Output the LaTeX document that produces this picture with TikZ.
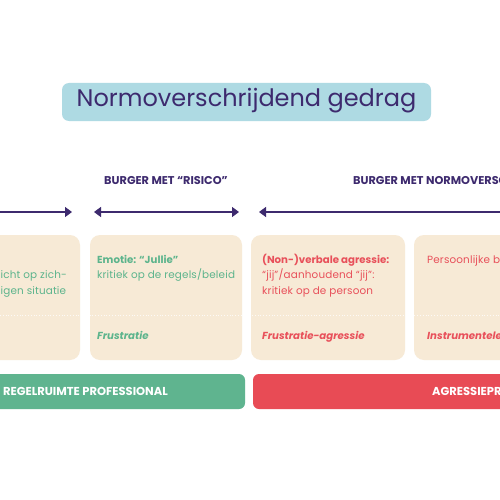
\documentclass[tikz,border=0pt]{standalone}
\usepackage{fontspec}
\setmainfont{Poppins}
\usetikzlibrary{arrows.meta}
\definecolor{titlebg}{HTML}{AEDAE3}
\definecolor{purp}{HTML}{3D2A6E}
\definecolor{boxbg}{HTML}{F7EAD6}
\definecolor{grn}{HTML}{5CB48C}
\definecolor{grnbar}{HTML}{5FB48F}
\definecolor{rd}{HTML}{E8505A}
\definecolor{rdbar}{HTML}{E84B55}
\newcommand{\regfont}{\fontsize{10.4}{12}\selectfont\addfontfeatures{LetterSpace=1.5}}
\newcommand{\boldfont}{\fontsize{10.2}{12}\selectfont\bfseries}
\tikzset{
  cardbox/.style={fill=boxbg, rounded corners=10pt},
  barbox/.style={rounded corners=6pt},
  hdr/.style={font=\fontsize{11.3}{13}\selectfont\bfseries, text=purp, inner sep=0pt},
  txt/.style={font=\regfont, anchor=base west, inner sep=0pt},
  arr/.style={purp, line width=1.3pt, -{Triangle[length=7pt,width=10pt]}},
  darr/.style={purp, line width=1.3pt, {Triangle[length=7pt,width=10pt]}-{Triangle[length=7pt,width=10pt]}},
}
\begin{document}
\begin{tikzpicture}[x=1pt,y=-1pt]
\useasboundingbox (0,0) rectangle (500,500);
\clip (0,0) rectangle (500,500);
\fill[white] (0,0) rectangle (500,500);
% title
\fill[titlebg, rounded corners=7pt] (62,83) rectangle (431,121);
\node[text=purp, font=\fontsize{24}{28}\selectfont, inner sep=0pt] (title) at (246.5,101) {Normoverschrijdend gedrag};
% headers
\node[hdr] (h1) at (166,181) {BURGER MET “RISICO”};
\node[hdr, anchor=west] (h2) at (353,181) {BURGER MET NORMOVERSCHRIJDEND GEDRAG};
% arrows
\coordinate (a0s) at (-20,212);
\coordinate (a0e) at (72,212);
\coordinate (a1s) at (94,212);
\coordinate (a1e) at (239,212);
\coordinate (a2s) at (259,212);
\coordinate (a2e) at (520,212);
\draw[arr] (a0s) -- (a0e);
\draw[darr] (a1s) -- (a1e);
\draw[arr] (a2e) -- (a2s);
% cards
\fill[cardbox] (-70,235) rectangle (80,360);
\fill[cardbox] (90,235) rectangle (242,360);
\fill[cardbox] (251,235) rectangle (405,360);
\fill[cardbox] (414,235) rectangle (570,360);
\node (c1) at (5,297) {};
\node (c2) at (166,297) {};
\node (c3) at (328,297) {};
\node (c4) at (490,297) {};
% dotted line
\draw[white, dotted, line width=0.8pt, opacity=0.8] (0,315) -- (500,315);
% card 1 text
\node[txt, text=grn] (t1a) at (0.5,278) {icht op zich-};
\node[txt, text=grn] (t1b) at (0.5,294) {igen situatie};
% card 2 text
\node[txt, text=grn, font=\boldfont] (t2a) at (97,263) {Emotie: “Jullie”};
\node[txt, text=grn] (t2b) at (97,278) {kritiek op de regels/beleid};
\node[txt, text=grn, font=\boldfont\itshape] (t2c) at (97,339) {Frustratie};
% card 3 text
\node[txt, text=rd, font=\boldfont] (t3a) at (262,263) {(Non-)verbale agressie:};
\node[txt, text=rd] (t3b) at (262,278) {“jij”/aanhoudend “jij”:};
\node[txt, text=rd] (t3c) at (262,294) {kritiek op de persoon};
\node[txt, text=rd, font=\boldfont\itshape] (t3d) at (262,339) {Frustratie-agressie};
% card 4 text
\node[txt, text=rd] (t4a) at (427,263) {Persoonlijke bedreiging};
\node[txt, text=rd, font=\boldfont\itshape] (t4b) at (427,339) {Instrumentele agressie};
% bars
\fill[grnbar, barbox] (-60,374) rectangle (245,409);
\fill[rdbar, barbox] (253,374) rectangle (580,409);
\node[txt, text=white, font=\fontsize{11.5}{13}\selectfont\bfseries, anchor=base east] (b1) at (168,395) {REGELRUIMTE PROFESSIONAL};
\node[txt, text=white, font=\fontsize{11.5}{13}\selectfont\bfseries] (b2) at (432,395) {AGRESSIEPROTOCOL};
\end{tikzpicture}
\end{document}
